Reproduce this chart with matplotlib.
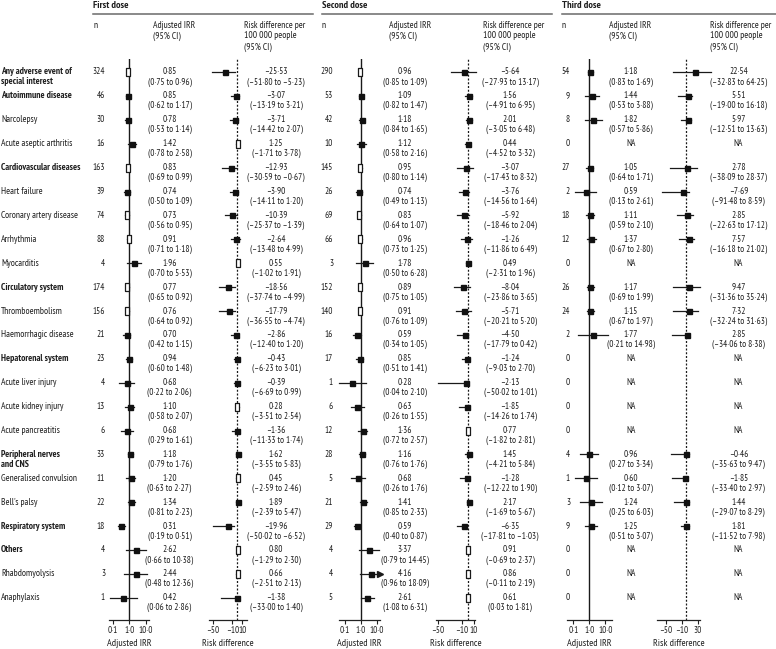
import numpy as np
import matplotlib
matplotlib.use("Agg")
import matplotlib.pyplot as plt
from matplotlib import font_manager as fm

nan = np.nan

# ---------------- data ----------------
labels = ["Any adverse event of\nspecial interest", "Autoimmune disease", "Narcolepsy",
          "Acute aseptic arthritis", "Cardiovascular diseases", "Heart failure",
          "Coronary artery disease", "Arrhythmia", "Myocarditis", "Circulatory system",
          "Thromboembolism", "Haemorrhagic disease", "Hepatorenal system",
          "Acute liver injury", "Acute kidney injury", "Acute pancreatitis",
          "Peripheral nerves\nand CNS", "Generalised convulsion", "Bell's palsy",
          "Respiratory system", "Others", "Rhabdomyolysis", "Anaphylaxis"]
is_group = [True, True, False, False, True, False, False, False, False, True, False, False,
            True, False, False, False, True, False, False, True, True, False, False]

n1 = [324, 46, 30, 16, 163, 39, 74, 88, 4, 174, 156, 21, 23, 4, 13, 6, 33, 11, 22, 18, 4, 3, 1]
irr1 = [0.85, 0.85, 0.78, 1.42, 0.83, 0.74, 0.73, 0.91, 1.96, 0.77, 0.76, 0.70, 0.94, 0.68,
        1.10, 0.68, 1.18, 1.20, 1.34, 0.31, 2.62, 2.44, 0.42]
irr1_lo = [0.75, 0.62, 0.53, 0.78, 0.69, 0.50, 0.56, 0.71, 0.70, 0.65, 0.64, 0.42, 0.60, 0.22,
           0.58, 0.29, 0.79, 0.63, 0.81, 0.19, 0.66, 0.48, 0.06]
irr1_hi = [0.96, 1.17, 1.14, 2.58, 0.99, 1.09, 0.95, 1.18, 5.53, 0.92, 0.92, 1.15, 1.48, 2.06,
           2.07, 1.61, 1.76, 2.27, 2.23, 0.51, 10.38, 12.36, 2.86]
rd1 = [-25.53, -3.07, -3.71, 1.25, -12.93, -3.90, -10.39, -2.64, 0.55, -18.56, -17.79, -2.86,
       -0.43, -0.39, 0.28, -1.36, 1.62, 0.45, 1.89, -19.96, 0.80, 0.66, -1.38]
rd1_lo = [-51.80, -13.19, -14.42, -1.71, -30.59, -14.11, -25.37, -13.48, -1.02, -37.74, -36.55,
          -12.40, -6.23, -6.69, -3.51, -11.33, -3.55, -2.59, -2.39, -50.02, -1.29, -2.51, -33.00]
rd1_hi = [-5.23, 3.21, 2.07, 3.78, -0.67, 1.20, -1.39, 4.99, 1.91, -4.99, -4.74, 1.20, 3.01,
          0.99, 2.54, 1.74, 5.83, 2.46, 5.47, -6.52, 2.30, 2.13, 1.40]

n2 = [290, 53, 42, 10, 145, 26, 69, 66, 3, 152, 140, 16, 17, 1, 6, 12, 28, 5, 21, 29, 4, 4, 5]
irr2 = [0.96, 1.09, 1.18, 1.12, 0.95, 0.74, 0.83, 0.96, 1.78, 0.89, 0.91, 0.59, 0.85, 0.28,
        0.63, 1.36, 1.16, 0.68, 1.41, 0.59, 3.37, 4.16, 2.61]
irr2_lo = [0.85, 0.82, 0.84, 0.58, 0.80, 0.49, 0.64, 0.73, 0.50, 0.75, 0.76, 0.34, 0.51, 0.04,
           0.26, 0.72, 0.76, 0.26, 0.85, 0.40, 0.79, 0.96, 1.08]
irr2_hi = [1.09, 1.47, 1.65, 2.16, 1.14, 1.13, 1.07, 1.25, 6.28, 1.05, 1.09, 1.05, 1.41, 2.10,
           1.55, 2.57, 1.76, 1.76, 2.33, 0.87, 14.45, 18.09, 6.31]
rd2 = [-5.64, 1.56, 2.01, 0.44, -3.07, -3.76, -5.92, -1.26, 0.49, -8.04, -5.71, -4.50, -1.24,
       -2.13, -1.85, 0.77, 1.45, -1.28, 2.17, -6.35, 0.91, 0.86, 0.61]
rd2_lo = [-27.93, -4.91, -3.05, -4.52, -17.43, -14.56, -18.46, -11.86, -2.31, -23.86, -20.21,
          -17.79, -9.03, -50.02, -14.26, -1.82, -4.21, -12.22, -1.69, -17.81, -0.69, -0.11, 0.03]
rd2_hi = [13.17, 6.95, 6.48, 3.32, 8.32, 1.64, 2.04, 6.49, 1.96, 3.65, 5.20, 0.42, 2.70, 1.01,
          1.74, 2.81, 5.84, 1.90, 5.67, -1.03, 2.37, 2.19, 1.81]

n3 = [54, 9, 8, 0, 27, 2, 18, 12, 0, 26, 24, 2, 0, 0, 0, 0, 4, 1, 3, 9, 0, 0, 0]
irr3 = [1.18, 1.44, 1.82, nan, 1.05, 0.59, 1.11, 1.37, nan, 1.17, 1.15, 1.77, nan, nan, nan,
        nan, 0.96, 0.60, 1.24, 1.25, nan, nan, nan]
irr3_lo = [0.83, 0.53, 0.57, nan, 0.64, 0.13, 0.59, 0.67, nan, 0.69, 0.67, 0.21, nan, nan, nan,
           nan, 0.27, 0.12, 0.25, 0.51, nan, nan, nan]
irr3_hi = [1.69, 3.88, 5.86, nan, 1.71, 2.61, 2.10, 2.80, nan, 1.99, 1.97, 14.98, nan, nan, nan,
           nan, 3.34, 3.07, 6.03, 3.07, nan, nan, nan]
rd3 = [22.54, 5.51, 5.97, nan, 2.78, -7.69, 2.85, 7.57, nan, 9.47, 7.32, 2.85, nan, nan, nan,
       nan, -0.46, -1.85, 1.44, 1.81, nan, nan, nan]
rd3_lo = [-32.83, -19.00, -12.51, nan, -38.09, -91.48, -22.63, -16.18, nan, -31.36, -32.24,
          -34.06, nan, nan, nan, nan, -35.63, -33.40, -29.07, -11.52, nan, nan, nan]
rd3_hi = [64.25, 16.18, 13.63, nan, 28.37, 8.59, 17.12, 21.02, nan, 35.24, 31.63, 8.38, nan,
          nan, nan, nan, 9.47, 2.97, 8.29, 7.98, nan, nan, nan]

dose_titles = ["First dose", "Second dose", "Third dose"]
irr_ticks = [0.1, 1.0, 10.0]
irr_ticklabels = ["0·1", "1·0", "10·0"]
rd_ticks = [[-50, -10, 10], [-50, -10, 10], [-50, -10, 30]]
rd_ticklabels = [["–50", "–10", "10"], ["–50", "–10", "10"], ["–50", "–10", "30"]]

# ---------------- fonts ----------------
names = {f.name for f in fm.fontManager.ttflist}
FONT = "DejaVu Sans"
for cand in ["PT Sans Narrow", "Archivo Narrow", "IBM Plex Sans Condensed",
             "Liberation Sans Narrow", "Liberation Sans"]:
    if cand in names:
        FONT = cand
        break
plt.rcParams["font.family"] = [FONT, "DejaVu Sans"]
TXT = "#1e1e1e"

# ---------------- layout (pixels) ----------------
W, H = 776, 649
ROW0, ROWH = 72.0, 23.9
TOP, AXY = 59.0, 620.0


def ypix(i):
    return ROW0 + ROWH * i


fig = plt.figure(figsize=(W / 100, H / 100), dpi=100)
ax0 = fig.add_axes([0, 0, 1, 1])
ax0.set_xlim(0, W)
ax0.set_ylim(H, 0)
ax0.axis("off")


def fmt(v):
    return f"{v:.2f}".replace(".", "·").replace("-", "–")


panels = [
    dict(n=n1, irr=irr1, lo=irr1_lo, hi=irr1_hi, rd=rd1, rlo=rd1_lo, rhi=rd1_hi,
         x_title=93, line_end=313, n_right=105, irr_box=(109, 149), irr_one=129.3, irr_dec=16.2,
         irr_hdr=153, irr_txt=169.5, rd_box=(209, 247), rd_zero=237.3, rd_scale=0.49,
         rd_hdr=244, rd_txt=276, rd_clip=(-60, 30),
         hollow_irr=[0, 4, 6, 7, 9, 10], hollow_rd=[3, 8, 14, 17, 20, 21]),
    dict(n=n2, irr=irr2, lo=irr2_lo, hi=irr2_hi, rd=rd2, rlo=rd2_lo, rhi=rd2_hi,
         x_title=322, line_end=552, n_right=333, irr_box=(339, 380), irr_one=360.7, irr_dec=16.0,
         irr_hdr=389, irr_txt=405, rd_box=(436, 475), rd_zero=467.7, rd_scale=0.594,
         rd_hdr=483, rd_txt=510, rd_clip=(-60, 30),
         hollow_irr=[0, 4, 6, 7, 9, 10], hollow_rd=[15, 20, 21, 22]),
    dict(n=n3, irr=irr3, lo=irr3_lo, hi=irr3_hi, rd=rd3, rlo=rd3_lo, rhi=rd3_hi,
         x_title=562, line_end=776, n_right=570, irr_box=(567, 612), irr_one=589.3, irr_dec=16.0,
         irr_hdr=609, irr_txt=631, rd_box=(657, 700), rd_zero=685.7, rd_scale=0.40,
         rd_hdr=710, rd_txt=738.5, rd_clip=(-59, 64),
         hollow_irr=[], hollow_rd=[]),
]

FS = 6.8
FS_NUM = 6.7

# row labels
for i, lab in enumerate(labels):
    for k, line in enumerate(lab.split("\n")):
        ax0.text(1, ypix(i) + 10 * k, line, fontsize=FS, color=TXT, va="center", ha="left",
                 fontweight="bold" if is_group[i] else "normal")

nrows = len(labels)
ylim_rows = ((AXY - ROW0) / ROWH, (TOP - ROW0) / ROWH)

hollow_marker = [(-0.28, -0.5), (0.28, -0.5), (0.28, 0.5), (-0.28, 0.5), (-0.28, -0.5)]


def make_axes(box):
    x0, x1 = box
    return fig.add_axes([x0 / W, 1 - AXY / H, (x1 - x0) / W, (AXY - TOP) / H])


def style_axes(ax):
    for s in ["top", "right", "left"]:
        ax.spines[s].set_visible(False)
    ax.spines["bottom"].set_linewidth(0.9)
    ax.spines["bottom"].set_color("#222222")
    ax.set_yticks([])
    ax.set_ylim(*ylim_rows)
    ax.patch.set_alpha(0)
    ax.tick_params(axis="x", direction="out", length=3, width=0.8, pad=1.5,
                   labelsize=FS_NUM, colors="#222222")


def draw_points(ax, vals, los, his, hollow, xlo, xhi, clip=None, arrows=False):
    for i in range(nrows):
        v, lo, hi = vals[i], los[i], his[i]
        if np.isnan(v):
            continue
        cl = clip if clip is not None else (xlo, xhi)
        a = max(lo, cl[0])
        b = min(hi, cl[1])
        ax.plot([a, b], [i, i], color="#1a1a1a", lw=0.9, clip_on=False, zorder=2)
        if arrows and hi > cl[1]:
            ax.plot([cl[1]], [i], marker=">", ms=5, color="#1a1a1a", clip_on=False, zorder=3)
        if i in hollow:
            ax.plot([v], [i], marker=hollow_marker, ms=5.2, mfc="white", mec="#1a1a1a",
                    mew=0.9, ls="none", clip_on=False, zorder=3)
        else:
            ax.plot([v], [i], marker="s", ms=3.6, color="#111111", ls="none",
                    clip_on=False, zorder=3)


for p_i, p in enumerate(panels):
    # header
    ax0.text(p["x_title"], 5, dose_titles[p_i], fontsize=7.4, fontweight="bold", color=TXT,
             va="center", ha="left")
    ax0.plot([p["x_title"], p["line_end"]], [14, 14], color="#6a6a6a", lw=1.1)
    ax0.text(p["x_title"], 25, "n", fontsize=FS, color=TXT, va="center", ha="left")
    for k, t in enumerate(["Adjusted IRR", "(95% CI)"]):
        ax0.text(p["irr_hdr"], 25 + 11 * k, t, fontsize=FS, color=TXT, va="center", ha="left")
    for k, t in enumerate(["Risk difference per", "100 000 people", "(95% CI)"]):
        ax0.text(p["rd_hdr"], 25 + 11 * k, t, fontsize=FS, color=TXT, va="center", ha="left")

    # values
    for i in range(nrows):
        y = ypix(i)
        ax0.text(p["n_right"], y, str(p["n"][i]), fontsize=FS_NUM, color=TXT, va="center",
                 ha="right")
        if np.isnan(p["irr"][i]):
            ax0.text(p["irr_txt"], y, "NA", fontsize=FS_NUM, color=TXT, va="center", ha="center")
            ax0.text(p["rd_txt"], y, "NA", fontsize=FS_NUM, color=TXT, va="center", ha="center")
            continue
        ax0.text(p["irr_txt"], y, fmt(p["irr"][i]), fontsize=FS_NUM, color=TXT, va="center",
                 ha="center")
        ax0.text(p["irr_txt"], y + 10, f"({fmt(p['lo'][i])} to {fmt(p['hi'][i])})",
                 fontsize=FS_NUM, color=TXT, va="center", ha="center")
        ax0.text(p["rd_txt"], y, fmt(p["rd"][i]), fontsize=FS_NUM, color=TXT, va="center",
                 ha="center")
        ax0.text(p["rd_txt"], y + 10, f"({fmt(p['rlo'][i])} to {fmt(p['rhi'][i])})",
                 fontsize=FS_NUM, color=TXT, va="center", ha="center")

    # IRR forest
    x0, x1 = p["irr_box"]
    axi = make_axes(p["irr_box"])
    axi.set_xscale("log")
    lo_l = 10 ** ((x0 - p["irr_one"]) / p["irr_dec"])
    hi_l = 10 ** ((x1 - p["irr_one"]) / p["irr_dec"])
    axi.set_xlim(lo_l, hi_l)
    style_axes(axi)
    axi.axvline(1.0, color="#1a1a1a", lw=1.0, zorder=1)
    axi.set_xticks(irr_ticks)
    axi.set_xticklabels(irr_ticklabels)
    axi.minorticks_off()
    draw_points(axi, p["irr"], p["lo"], p["hi"], p["hollow_irr"], lo_l, hi_l, arrows=True)
    ax0.text((x0 + x1) / 2, 643, "Adjusted IRR", fontsize=7.2, color=TXT, va="center",
             ha="center")

    # RD forest
    r0, r1 = p["rd_box"]
    axr = make_axes(p["rd_box"])
    rlo_l = (r0 - p["rd_zero"]) / p["rd_scale"]
    rhi_l = (r1 - p["rd_zero"]) / p["rd_scale"]
    axr.set_xlim(rlo_l, rhi_l)
    style_axes(axr)
    axr.axvline(0, color="#1a1a1a", lw=0.9, ls=(0, (1.6, 1.4)), zorder=1)
    axr.set_xticks(rd_ticks[p_i])
    axr.set_xticklabels(rd_ticklabels[p_i])
    draw_points(axr, p["rd"], p["rlo"], p["rhi"], p["hollow_rd"], rlo_l, rhi_l,
                clip=p["rd_clip"])
    ax0.text((r0 + r1) / 2, 643, "Risk difference", fontsize=7.2, color=TXT, va="center",
             ha="center")

fig.savefig("out.png", dpi=100)
